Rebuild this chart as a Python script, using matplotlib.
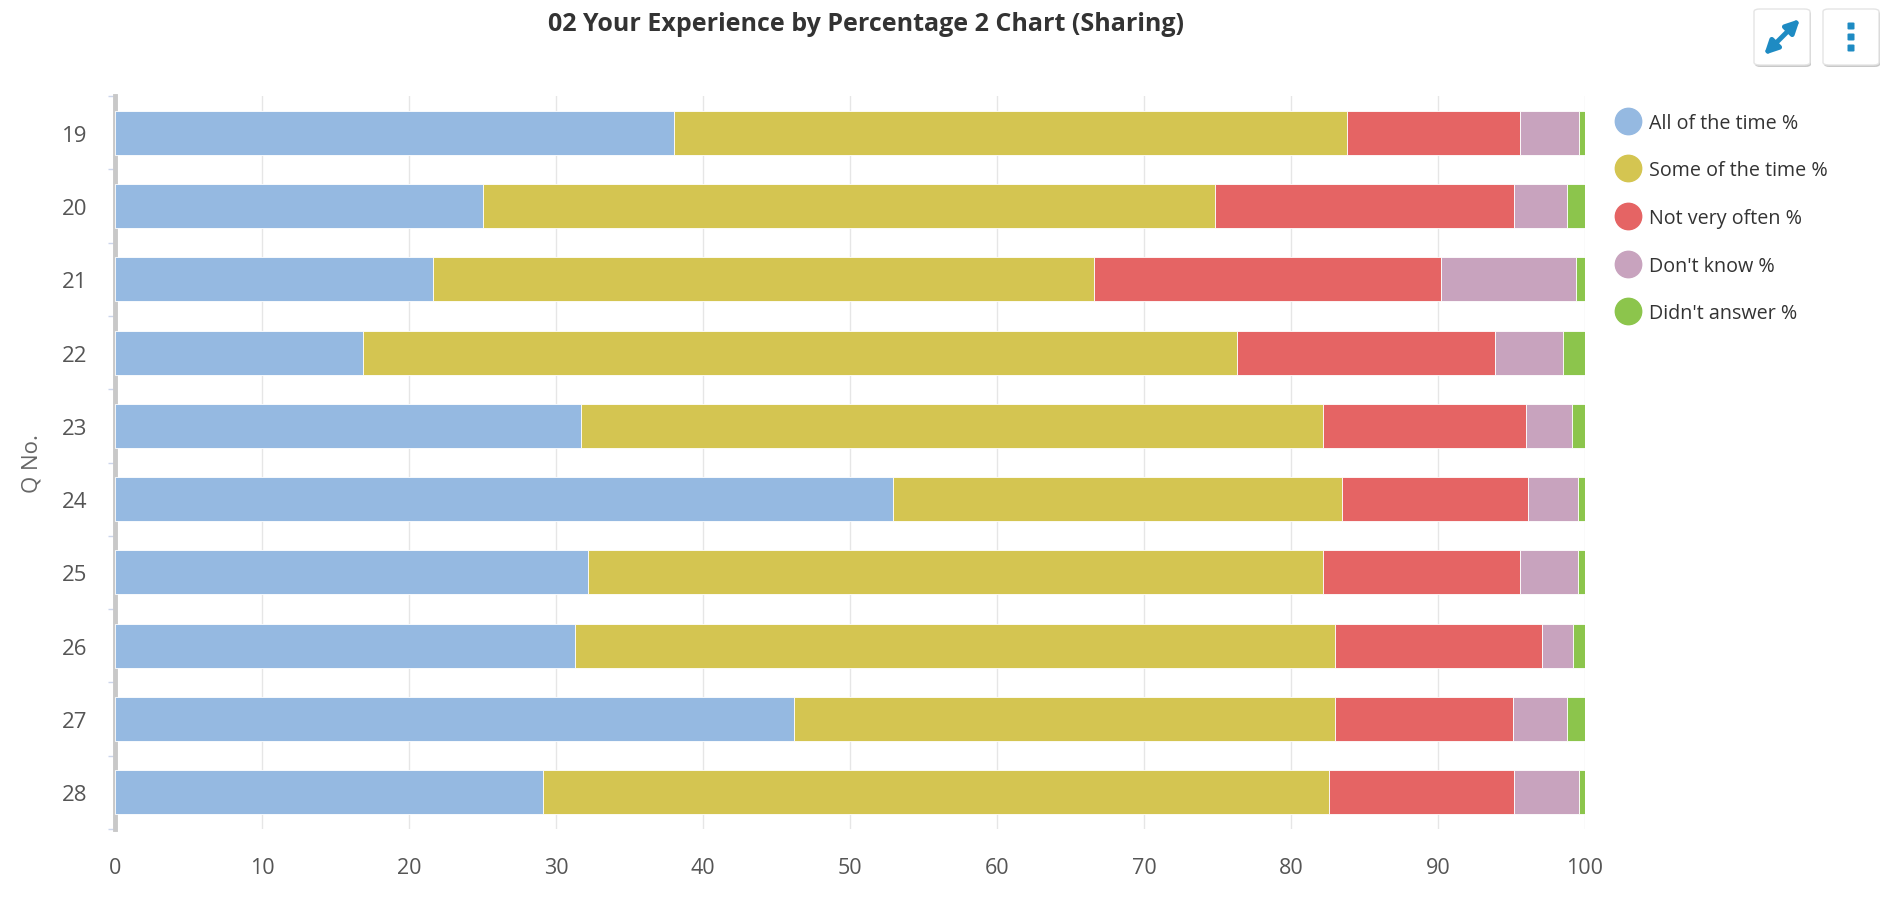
import numpy as np
import matplotlib.pyplot as plt
from matplotlib.patches import FancyBboxPatch, FancyArrowPatch

# ---------------- DATA ---------------- #

questions = ["19", "20", "21", "22", "23", "24", "25", "26", "27", "28"]
series_names = ["All of the time %", "Some of the time %", "Not very often %",
                "Don't know %", "Didn't answer %"]

all_time = [38.0, 25.0, 21.6, 16.9, 31.7, 52.9, 32.2, 31.3, 46.2, 29.1]
some_time = [45.8, 49.8, 45.0, 59.4, 50.5, 30.6, 50.0, 51.7, 36.8, 53.5]
not_often = [11.8, 20.4, 23.6, 17.6, 13.8, 12.6, 13.4, 14.1, 12.1, 12.6]
dont_know = [4.0, 3.6, 9.2, 4.6, 3.1, 3.4, 3.9, 2.1, 3.7, 4.4]
no_answer = [0.4, 1.2, 0.6, 1.5, 0.9, 0.5, 0.5, 0.8, 1.2, 0.4]

colors = ["#95b9e1", "#d4c551", "#e56464", "#c8a3be", "#8cc54c"]

# ---------------- PLOT ---------------- #

plt.rcParams['font.family'] = ['Open Sans', 'DejaVu Sans']

W, H = 1885, 903
fig = plt.figure(figsize=(W / 100, H / 100), dpi=100)
ax = fig.add_axes([115 / W, 1 - 830 / H, 1470 / W, 733 / H])

y = np.arange(len(questions))
left = np.zeros(len(questions))
handles = []
for name, vals, col in zip(series_names, [all_time, some_time, not_often, dont_know, no_answer], colors):
    ax.barh(y, vals, left=left, height=0.6, color=col, edgecolor="white", linewidth=0.6, zorder=3)
    left += np.array(vals)
    h, = ax.plot([], [], "o", color=col, markersize=19, label=name)
    handles.append(h)

ax.set_xlim(0, 100)
ax.set_ylim(len(questions) - 0.5, -0.5)
ax.set_xticks(np.arange(0, 101, 10))
ax.set_yticks(y)
ax.set_yticklabels(questions)
ax.set_yticks(np.arange(-0.5, len(questions), 1), minor=True)
ax.grid(axis="x", color="#e6e6e6", linewidth=1, zorder=0)

for s in ["top", "right", "bottom"]:
    ax.spines[s].set_visible(False)
ax.spines["left"].set_color("#c8c8c8")
ax.spines["left"].set_linewidth(3.5)

ax.tick_params(axis="x", length=0, labelsize=15.5, colors="#555555", pad=20)
ax.tick_params(axis="y", which="major", length=0, labelsize=16, colors="#555555", pad=20)
ax.tick_params(axis="y", which="minor", length=5, color="#ccd6eb", width=1)

ax.set_ylabel("Q No.", fontsize=16, color="#666666", labelpad=14)

fig.suptitle("02 Your Experience by Percentage 2 Chart (Sharing)", x=866 / W, y=1 - 12 / H,
             fontsize=18, fontweight="bold", color="#333333", va="top")

leg = fig.legend(handles=handles, loc="upper left", bbox_to_anchor=(1598 / W, 1 - 96 / H),
                 frameon=False, fontsize=14.2, labelcolor="#333333", handletextpad=0.5,
                 labelspacing=1.4, handlelength=1.2)

# top-right buttons
blue = "#1e8bc3"
for bx, sym in [(1754, "arrow"), (1823, "dots")]:
    shadow = FancyBboxPatch(((bx + 1) / W, 1 - 68 / H), 56 / W, 56 / H,
                            boxstyle="round,pad=0,rounding_size=0.003",
                            transform=fig.transFigure, facecolor="#c8c8c8",
                            edgecolor="none", zorder=5)
    box = FancyBboxPatch((bx / W, 1 - 66 / H), 56 / W, 56 / H,
                         boxstyle="round,pad=0,rounding_size=0.003",
                         transform=fig.transFigure, facecolor="white",
                         edgecolor="#e4e4e4", linewidth=1, zorder=6)
    fig.add_artist(shadow)
    fig.add_artist(box)
    cx, cy = (bx + 28) / W, 1 - 38 / H
    if sym == "arrow":
        arr = FancyArrowPatch((cx - 18 / W, cy - 18 / H), (cx + 18 / W, cy + 18 / H),
                              transform=fig.transFigure, arrowstyle="<|-|>",
                              shrinkA=0, shrinkB=0, mutation_scale=20,
                              color=blue, linewidth=3.5, zorder=7)
        fig.add_artist(arr)
    else:
        for dy in [-11, 0, 11]:
            dot = FancyBboxPatch((cx - 3.5 / W, cy + (dy - 3.5) / H), 7 / W, 7 / H,
                                 boxstyle="round,pad=0,rounding_size=0.0008",
                                 transform=fig.transFigure, facecolor=blue,
                                 edgecolor="none", zorder=7)
            fig.add_artist(dot)

fig.savefig("out.png", dpi=100)
